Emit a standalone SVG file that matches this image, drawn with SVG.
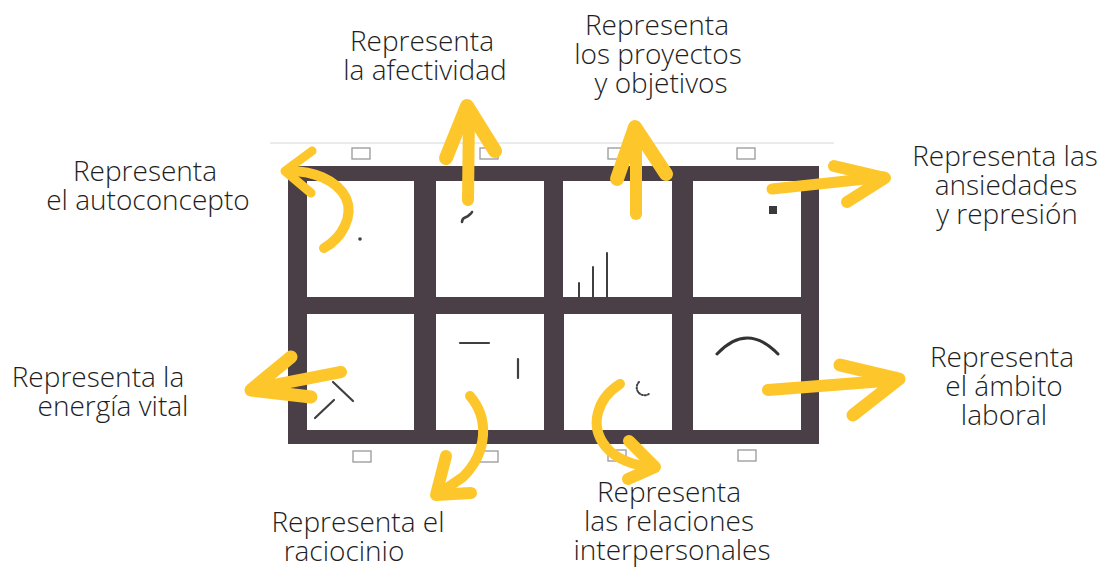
<svg xmlns="http://www.w3.org/2000/svg" width="1107" height="567" viewBox="0 0 1107 567">
<style>
.lbl{font-family:"Open Sans","Liberation Sans",sans-serif;font-weight:300;font-size:28px;fill:#1e1e1e;text-anchor:middle}
.cell{fill:#fff}
.tab{fill:#fff;stroke:#999;stroke-width:1.3}
.g{stroke:#3f3f3f;fill:none;stroke-linecap:round}
.arr{fill:none;stroke:#fdc72c;stroke-linecap:round;stroke-linejoin:round}
</style>
<rect width="1107" height="567" fill="#fff"/>
<g id="sheet">
<line x1="270" y1="143" x2="834" y2="143" stroke="#e4e4e4" stroke-width="1.5"/>
<rect class="tab" x="352" y="148" width="18" height="11"/>
<rect class="tab" x="480" y="148" width="18" height="11"/>
<rect class="tab" x="608" y="148" width="18" height="11"/>
<rect class="tab" x="737" y="148" width="18" height="11"/>
<rect class="tab" x="353" y="451" width="18" height="11"/>
<rect class="tab" x="480" y="451" width="18" height="11"/>
<rect class="tab" x="608" y="450" width="18" height="11"/>
<rect class="tab" x="738" y="450" width="18" height="11"/>
<rect id="frame" x="288" y="166" width="531" height="278" fill="#4a3f46"/>
</g>
<g id="cell1"><rect class="cell" x="307" y="181" width="107" height="116"/><circle cx="360" cy="239" r="1.8" fill="#3f3f3f"/></g>
<g id="cell2"><rect class="cell" x="436" y="181" width="108" height="116"/><path class="g" d="M462,222 C462,217 466,218 468,216 C470,214 471,214 472,212" stroke-width="2.6"/></g>
<g id="cell3"><rect class="cell" x="563" y="181" width="109" height="116"/><path class="g" d="M579,297 V283 M593,297 V267 M607,297 V253" stroke-width="2" stroke-linecap="butt"/></g>
<g id="cell4"><rect class="cell" x="693" y="181" width="108" height="116"/><rect x="769" y="206" width="8" height="8" fill="#3a3a3a"/></g>
<g id="cell5"><rect class="cell" x="307" y="314" width="107" height="116"/><path class="g" d="M333,382 L353,401 M315,418 L334,400" stroke-width="2.2"/></g>
<g id="cell6"><rect class="cell" x="436" y="314" width="108" height="116"/><path class="g" d="M460,343 H489 M518,359 V378" stroke-width="2.2"/></g>
<g id="cell7"><rect class="cell" x="564" y="314" width="108" height="116"/><path class="g" d="M639,382 A6.5,6.5 0 1 0 650,393" stroke-width="2" stroke-dasharray="1.2 1.8"/></g>
<g id="cell8"><rect class="cell" x="693" y="314" width="108" height="116"/><path d="M717,354 Q747,322 778,354" fill="none" stroke="#333" stroke-width="3" stroke-linecap="round"/></g>
<g id="connectors">
<path class="arr" stroke-width="10" d="M324,248 C342,238 354,216 346,198 C337,180 312,170 287,171"/>
<path class="arr" stroke-width="9" d="M312,151 L285,171 L311,193"/>
<path class="arr" stroke-width="12" d="M468,200 L469,110"/>
<path class="arr" stroke-width="14" d="M446,158 L467,106 L495,151"/>
<path class="arr" stroke-width="12" d="M636,214 L636,130"/>
<path class="arr" stroke-width="14" d="M617,179 L635,127 L666,174"/>
<path class="arr" stroke-width="11" d="M772,189 L884,177"/>
<path class="arr" stroke-width="12" d="M834,166 L885,178 L847,202"/>
<path class="arr" stroke-width="12" d="M341,372 L253,389"/>
<path class="arr" stroke-width="13" d="M291,357 L251,390 L311,397"/>
<path class="arr" stroke-width="10" d="M470,396 C489,418 488,452 463,477 L438,494"/>
<path class="arr" stroke-width="12" d="M446,456 L436,495 L471,493"/>
<path class="arr" stroke-width="10" d="M620,384 C598,398 588,425 606,447 C618,461 638,466 654,467"/>
<path class="arr" stroke-width="12" d="M629,441 L655,467 L628,479"/>
<path class="arr" stroke-width="12" d="M768,390 L897,380"/>
<path class="arr" stroke-width="13" d="M840,365 L899,379 L853,415"/>
</g>
<g id="lbl-afectividad"><text class="lbl" x="422" y="51">Representa</text><text class="lbl" x="425" y="80">la afectividad</text></g>
<g id="lbl-proyectos"><text class="lbl" x="657" y="35">Representa</text><text class="lbl" x="658" y="64">los proyectos</text><text class="lbl" x="661" y="93">y objetivos</text></g>
<g id="lbl-autoconcepto"><text class="lbl" x="145" y="181">Representa</text><text class="lbl" x="148" y="210">el autoconcepto</text></g>
<g id="lbl-ansiedades"><text class="lbl" x="1005" y="166">Representa las</text><text class="lbl" x="1006" y="195">ansiedades</text><text class="lbl" x="1007" y="224">y represión</text></g>
<g id="lbl-energia"><text class="lbl" x="98" y="387">Representa la</text><text class="lbl" x="113" y="416">energía vital</text></g>
<g id="lbl-laboral"><text class="lbl" x="1002" y="367">Representa</text><text class="lbl" x="1004" y="396">el ámbito</text><text class="lbl" x="1004" y="425">laboral</text></g>
<g id="lbl-raciocinio"><text class="lbl" x="358" y="532">Representa el</text><text class="lbl" x="344" y="561">raciocinio</text></g>
<g id="lbl-relaciones"><text class="lbl" x="669" y="502">Representa</text><text class="lbl" x="669" y="531">las relaciones</text><text class="lbl" x="672" y="560">interpersonales</text></g>
</svg>
